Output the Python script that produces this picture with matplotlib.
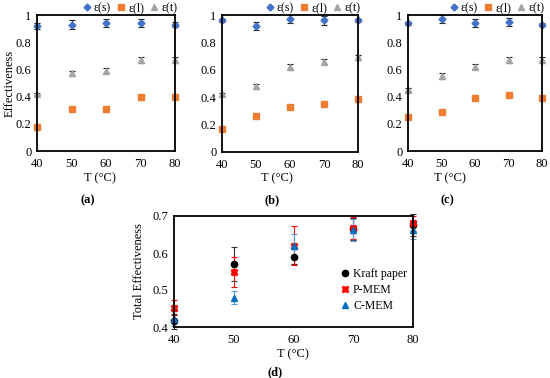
import matplotlib
matplotlib.use("Agg")
import matplotlib.pyplot as plt

plt.rcParams["font.family"] = ["Liberation Serif", "DejaVu Serif"]
plt.rcParams["font.size"] = 9

temps = [40, 50, 60, 70, 80]

# panels (a)-(c): effectiveness components
eff_s = {
    "a": [0.92, 0.93, 0.94, 0.94, 0.93],
    "b": [0.96, 0.92, 0.97, 0.96, 0.96],
    "c": [0.94, 0.97, 0.94, 0.95, 0.93],
}
eff_s_err = {
    "a": [0.02, 0.03, 0.03, 0.03, 0.02],
    "b": [0.01, 0.03, 0.03, 0.03, 0.01],
    "c": [0.01, 0.03, 0.03, 0.03, 0.01],
}
eff_l = {
    "a": [0.18, 0.31, 0.31, 0.40, 0.40],
    "b": [0.17, 0.26, 0.33, 0.35, 0.39],
    "c": [0.25, 0.29, 0.39, 0.41, 0.39],
}
eff_l_err = [0.01, 0.01, 0.01, 0.01, 0.01]
eff_t = {
    "a": [0.42, 0.57, 0.59, 0.67, 0.67],
    "b": [0.42, 0.48, 0.62, 0.66, 0.69],
    "c": [0.45, 0.55, 0.62, 0.67, 0.67],
}
eff_t_err = [0.01, 0.02, 0.02, 0.02, 0.02]

# panel (d): total effectiveness per membrane
total_kraft = [0.415, 0.57, 0.59, 0.665, 0.675]
total_kraft_err = [0.02, 0.045, 0.02, 0.03, 0.03]
total_pmem = [0.452, 0.549, 0.62, 0.667, 0.68]
total_pmem_err = [0.02, 0.04, 0.052, 0.03, 0.02]
total_cmem = [0.422, 0.479, 0.62, 0.662, 0.663]
total_cmem_err = [0.02, 0.018, 0.03, 0.03, 0.025]

BLUE = "#4472C4"
ORANGE = "#ED7D31"
GRAY = "#A5A5A5"

W, H = 550, 378
fig = plt.figure(figsize=(W / 100, H / 100), dpi=100)


def px_axes(left, top, right, bottom):
    return fig.add_axes([left / W, 1 - bottom / H, (right - left) / W, (bottom - top) / H])


def px_text(x, y, s, **kw):
    fig.text(x / W, 1 - y / H, s, ha="center", va="center", **kw)


def style_axes(ax):
    for sp in ax.spines.values():
        sp.set_linewidth(1.3)
        sp.set_color("black")
    ax.tick_params(axis="y", length=0, pad=4, labelsize=9)
    ax.tick_params(axis="x", length=0, pad=5, labelsize=9)


# (axes box in px, xlabel x, panel tag x)
panels = {
    "a": ((37, 15, 175, 151), 100, 88),
    "b": ((222, 15, 358, 152), 277, 272),
    "c": ((408, 15, 542, 151), 450, 447),
}
ebkw = dict(ecolor="#222222", elinewidth=0.8, capsize=2.5, capthick=0.8, linestyle="none", clip_on=False)

for key, (box, xl_x, tag_x) in panels.items():
    ax = px_axes(*box)
    style_axes(ax)
    ax.errorbar(temps, eff_s[key], yerr=eff_s_err[key], marker="D", ms=3.5, color=BLUE,
                label="ε(s)", **ebkw)
    ax.errorbar(temps, eff_l[key], yerr=eff_l_err, marker="s", ms=4.5, color=ORANGE,
                label="ε(l)", **ebkw)
    ax.errorbar(temps, eff_t[key], yerr=eff_t_err, marker="^", ms=4.5, color=GRAY,
                label="ε(t)", **ebkw)
    ax.set_xlim(40, 80)
    ax.set_ylim(0, 1)
    ax.set_xticks(temps)
    ax.set_yticks([0, 0.2, 0.4, 0.6, 0.8, 1])
    ax.set_yticklabels(["0", "0.2", "0.4", "0.6", "0.8", "1"])
    handles, labels = ax.get_legend_handles_labels()
    handles = [h[0] for h in handles]
    ax.legend(handles, labels, ncol=3, loc="lower right", bbox_to_anchor=(1.02, 1.0),
              frameon=False, fontsize=8.5, handlelength=0.7, handletextpad=0.25,
              columnspacing=0.5, borderpad=0, borderaxespad=0.05)
    px_text(xl_x, 178, "T (°C)", fontsize=9)
    px_text(tag_x, 200, f"({key})", fontsize=9, fontweight="bold")

px_text(10, 83, "Effectiveness", fontsize=9, rotation=90)

axd = px_axes(174, 216, 413, 327)
style_axes(axd)
dkw = dict(elinewidth=0.8, capsize=2.5, capthick=0.8, linestyle="none", clip_on=False)
axd.errorbar(temps, total_kraft, yerr=total_kraft_err, marker="o", ms=4.5, color="black",
             ecolor="#333333", label="Kraft paper", **dkw)
axd.errorbar(temps, total_pmem, yerr=total_pmem_err, marker="X", ms=5, color="#FF0000",
             ecolor="#FF0000", label="P-MEM", **dkw)
axd.errorbar(temps, total_cmem, yerr=total_cmem_err, marker="^", ms=4.5, color="#0070C0",
             ecolor="#5B9BD5", label="C-MEM", **dkw)
axd.set_xlim(40, 80)
axd.set_ylim(0.4, 0.7)
axd.set_xticks(temps)
axd.set_yticks([0.4, 0.5, 0.6, 0.7])
h, l = axd.get_legend_handles_labels()
axd.legend([x[0] for x in h], l, loc="upper left", bbox_to_anchor=(0.70, 0.53),
           frameon=False, fontsize=8.5, handlelength=0.7, handletextpad=0.3,
           labelspacing=0.35, borderpad=0, borderaxespad=0)
px_text(139, 271, "Total Effectiveness", fontsize=9, rotation=90)
px_text(293, 354, "T (°C)", fontsize=9)
px_text(275, 372, "(d)", fontsize=9, fontweight="bold")

fig.savefig("out.png", dpi=100)
